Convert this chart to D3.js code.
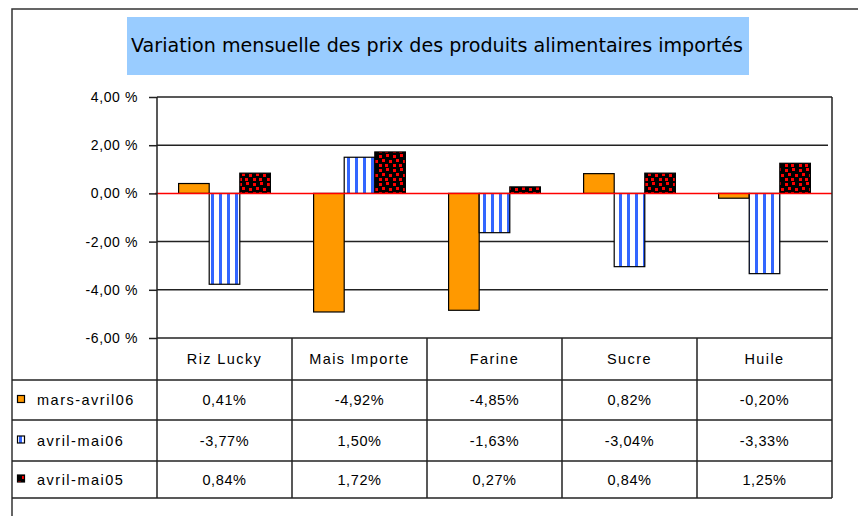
<!DOCTYPE html>
<html>
<head>
<meta charset="utf-8">
<script src="https://cdn.jsdelivr.net/npm/d3@7"></script>
<style>
  html, body { margin: 0; padding: 0; background: #fff; }
  svg { display: block; }
</style>
</head>
<body>
<svg id="chart" width="858" height="516"></svg>
<script>
const title = "Variation mensuelle des prix des produits alimentaires importés";
const categories = ["Riz Lucky", "Mais Importe", "Farine", "Sucre", "Huile"];
const seriesNames = ["mars-avril06", "avril-mai06", "avril-mai05"];
const marsAvril06 = [0.41, -4.92, -4.85, 0.82, -0.20];
const avrilMai06 = [-3.77, 1.50, -1.63, -3.04, -3.33];
const avrilMai05 = [0.84, 1.72, 0.27, 0.84, 1.25];
const yTicks = [-6, -4, -2, 0, 2, 4];

const seriesValues = [marsAvril06, avrilMai06, avrilMai05];
const fills = ["#FF9900", "url(#stripes)", "url(#dots)"];

const svg = d3.select("#chart");
const defs = svg.append("defs");

// vertical blue stripes
const pStr = defs.append("pattern").attr("id", "stripes")
  .attr("patternUnits", "userSpaceOnUse").attr("width", 8).attr("height", 8);
pStr.append("rect").attr("width", 8).attr("height", 8).attr("fill", "#fff");
pStr.append("rect").attr("x", 3).attr("width", 3).attr("height", 8).attr("fill", "#3366FF");

// red dots on black
const pDot = defs.append("pattern").attr("id", "dots")
  .attr("patternUnits", "userSpaceOnUse").attr("width", 14).attr("height", 14);
pDot.append("rect").attr("width", 14).attr("height", 14).attr("fill", "#000");
[[1,1],[8,0],[4,5],[11,6],[1,10],[7,10]].forEach(([x,y]) => {
  pDot.append("rect").attr("x", x).attr("y", y).attr("width", 3).attr("height", 3).attr("fill", "#FF0000");
});

const lineCol = "#222";

// outer frame
svg.append("path").attr("d", "M12,516 V9 H858").attr("fill", "none")
  .attr("stroke", "#333").attr("stroke-width", 1.5);

// title box
svg.append("rect").attr("x", 127).attr("y", 17).attr("width", 622).attr("height", 58)
  .attr("fill", "#99CCFF");
svg.append("text").attr("x", 131).attr("y", 52)
  .attr("textLength", 612).attr("lengthAdjust", "spacingAndGlyphs")
  .style("font-family", "'DejaVu Sans', sans-serif").style("font-size", "19px")
  .attr("fill", "#000").text(title);

// scales
const plotL = 157, plotR = 832, plotT = 97, plotB = 338;
const y = d3.scaleLinear().domain([-6, 4]).range([plotB, plotT]);
const x0 = d3.scaleBand().domain(categories).range([plotL, plotR]).padding(0);
const groupW = x0.bandwidth() * 0.68;
const x1 = d3.scaleBand().domain(seriesNames).range([0, groupW]).padding(0);
const groupOff = (x0.bandwidth() - groupW) / 2;

// gridlines
svg.append("g").selectAll("line").data(yTicks.filter(t => t !== 0 && t !== 4 && t !== -6))
  .join("line")
  .attr("x1", plotL).attr("x2", plotR - 4)
  .attr("y1", d => y(d)).attr("y2", d => y(d))
  .attr("stroke", lineCol).attr("stroke-width", 1.5);
// plot top border
svg.append("line").attr("x1", plotL).attr("x2", plotR).attr("y1", y(4)).attr("y2", y(4))
  .attr("stroke", lineCol).attr("stroke-width", 1.5);

// bars
const barData = [];
seriesNames.forEach((s, si) => {
  categories.forEach((c, ci) => {
    barData.push({ s, si, c, v: seriesValues[si][ci] });
  });
});
svg.append("g").selectAll("rect").data(barData).join("rect")
  .attr("x", d => x0(d.c) + groupOff + x1(d.s))
  .attr("y", d => y(Math.max(0, d.v)))
  .attr("width", x1.bandwidth())
  .attr("height", d => Math.abs(y(d.v) - y(0)))
  .attr("fill", d => fills[d.si])
  .attr("stroke", "#000").attr("stroke-width", 1.2);

// zero line
svg.append("line").attr("x1", plotL - 2).attr("x2", plotR).attr("y1", y(0)).attr("y2", y(0))
  .attr("stroke", "#FF0000").attr("stroke-width", 1.5);

// y axis
const fmt = v => d3.format(".2f")(v).replace(".", ",").replace("−", "-");
const yAxis = svg.append("g").attr("transform", `translate(${plotL},0)`)
  .call(d3.axisLeft(y).tickValues(yTicks).tickSize(8).tickPadding(11)
    .tickFormat(d => fmt(d) + " %"));
yAxis.select(".domain").remove();
yAxis.selectAll(".tick line").attr("stroke", lineCol).attr("stroke-width", 1.5);
yAxis.selectAll(".tick text")
  .style("font-family", "'Liberation Sans', Arial, sans-serif").style("font-size", "14px")
  .style("letter-spacing", "0.6px").attr("fill", "#000");

// table
const tableT = plotB, headB = 380;
const rowB = [420, 461, 498];
const tblL = 12;
const cols = categories.map(c => x0(c));

// horizontal lines
const hl = svg.append("g").attr("stroke", lineCol).attr("stroke-width", 1.5);
hl.append("line").attr("x1", plotL).attr("x2", plotR).attr("y1", tableT).attr("y2", tableT);
[headB, ...rowB].forEach(yy => {
  hl.append("line").attr("x1", tblL).attr("x2", plotR).attr("y1", yy).attr("y2", yy);
});
// vertical lines
hl.append("line").attr("x1", plotL).attr("x2", plotL).attr("y1", plotT).attr("y2", rowB[2]);
hl.append("line").attr("x1", plotR).attr("x2", plotR).attr("y1", plotT).attr("y2", rowB[2]);
cols.slice(1).forEach(cx => {
  hl.append("line").attr("x1", cx).attr("x2", cx).attr("y1", tableT).attr("y2", rowB[2]);
});

const tf = "'Liberation Sans', Arial, sans-serif";
// headers
svg.append("g").selectAll("text").data(categories).join("text")
  .attr("x", d => x0(d) + x0.bandwidth() / 2).attr("y", (tableT + headB) / 2 + 5)
  .attr("text-anchor", "middle")
  .style("font-family", tf).style("font-size", "14.5px").style("letter-spacing", "1.4px")
  .attr("fill", "#000").text(d => d);

// rows
const rowTops = [headB, rowB[0], rowB[1]];
seriesNames.forEach((s, si) => {
  const cy = (rowTops[si] + rowB[si]) / 2;
  svg.append("rect").attr("x", 17.5).attr("y", cy - 4.5).attr("width", 7).attr("height", 7)
    .attr("fill", fills[si]).attr("stroke", "#000").attr("stroke-width", 1.2);
  svg.append("text").attr("x", 37).attr("y", cy + 5)
    .style("font-family", tf).style("font-size", "14.5px").style("letter-spacing", "1.5px")
    .attr("fill", "#000").text(s);
  svg.append("g").selectAll("text").data(categories).join("text")
    .attr("x", c => x0(c) + x0.bandwidth() / 2).attr("y", cy + 5)
    .attr("text-anchor", "middle")
    .style("font-family", tf).style("font-size", "14.5px").style("letter-spacing", "0.6px")
    .attr("fill", "#000")
    .text((c, ci) => fmt(seriesValues[si][ci]) + "%");
});
</script>
</body>
</html>
